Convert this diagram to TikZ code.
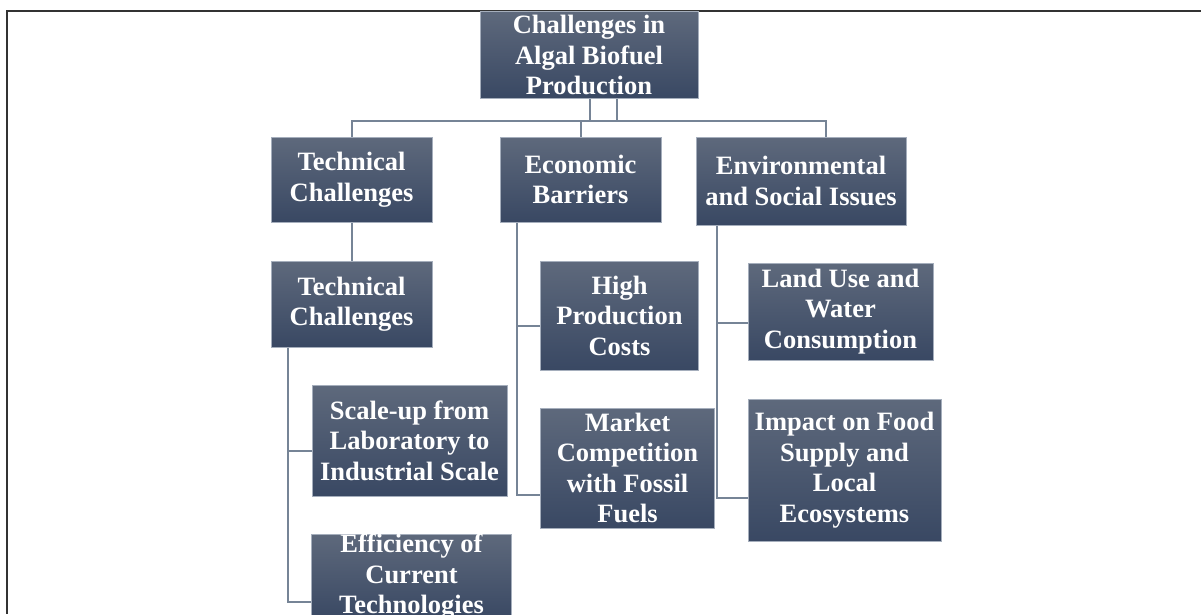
\documentclass[tikz,border=0pt]{standalone}
\usepackage{fontspec}
\setmainfont{Liberation Serif}
\usepackage{tikz}

\definecolor{boxtop}{RGB}{94,105,124}
\definecolor{boxbot}{RGB}{57,72,99}
\definecolor{boxedge}{RGB}{165,174,188}
\definecolor{linkcol}{RGB}{118,132,150}

\begin{document}
\begin{tikzpicture}[x=1pt, y=-1pt,
	box/.style={draw=boxedge, line width=1pt, top color=boxtop, bottom color=boxbot, text=white,
		font=\fontsize{26.5}{30.5}\selectfont\bfseries, align=center, inner sep=0pt},
	link/.style={draw=linkcol, line width=2pt}]
		\useasboundingbox (0,0) rectangle (1201,614);
		\draw[line width=2.5pt, black!80] (1201,11) -- (7,11) -- (7,614);

		% top level
		\node[box, minimum width=218pt, minimum height=87pt] (top) at (589,55) {Challenges in\\Algal Biofuel\\Production};
		\node[box, minimum width=161pt, minimum height=85pt] (tech) at (351.5,179.5) {Technical\\Challenges};
		\node[box, minimum width=161pt, minimum height=85pt] (econ) at (580.5,179.5) {Economic\\Barriers};
		\node[box, minimum width=210pt, minimum height=88pt] (env) at (801,181) {Environmental\\and Social Issues};

		% second level
		\node[box, minimum width=161pt, minimum height=86pt] (tech2) at (351.5,304) {Technical\\Challenges};
		\node[box, minimum width=195pt, minimum height=111pt] (scale) at (409.5,440.5) {Scale-up from\\Laboratory to\\Industrial Scale};
		\node[box, minimum width=200pt, minimum height=86pt] (effic) at (411.5,577) {Efficiency of\\Current\\Technologies};
		\node[box, minimum width=158pt, minimum height=109pt] (cost) at (619.5,315.5) {High\\Production\\Costs};
		\node[box, minimum width=174pt, minimum height=120pt] (market) at (627.5,468) {Market\\Competition\\with Fossil\\Fuels};
		\node[box, minimum width=185pt, minimum height=97pt] (land) at (840.5,311.5) {Land Use and\\Water\\Consumption};
		\node[box, minimum width=193pt, minimum height=142pt] (impact) at (844.5,470) {Impact on Food\\Supply and\\Local\\Ecosystems};

		% links
		\coordinate (j1) at (590,121);
		\coordinate (j2) at (617,121);
		\coordinate (j3) at (826,121);
		\draw[link] (top.south -| j1) -- (j1);
		\draw[link] (top.south -| j2) -- (j2);
		\draw[link] (tech.north) -- (tech.north |- j1) -- (j3) -- (j3 |- env.north);
		\draw[link] (econ.north |- j1) -- (econ.north);
		\draw[link] (tech.south) -- (tech2.north);

		\coordinate (t1) at (288,451);
		\coordinate (t2) at (288,602);
		\draw[link] (t1 |- tech2.south) -- (t2) -- (t2 -| effic.west);
		\draw[link] (t1) -- (t1 -| scale.west);

		\coordinate (e1) at (517,326);
		\coordinate (e2) at (517,495);
		\draw[link] (e1 |- econ.south) -- (e2) -- (e2 -| market.west);
		\draw[link] (e1) -- (e1 -| cost.west);

		\coordinate (v1) at (717,323);
		\coordinate (v2) at (717,498);
		\draw[link] (v1 |- env.south) -- (v2) -- (v2 -| impact.west);
		\draw[link] (v1) -- (v1 -| land.west);
\end{tikzpicture}
\end{document}
